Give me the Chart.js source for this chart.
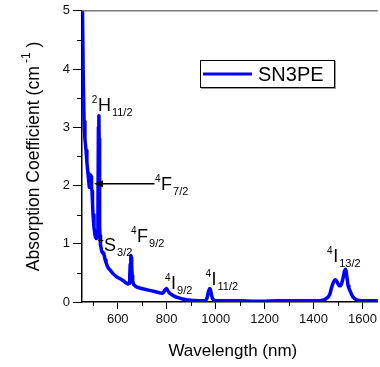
<!DOCTYPE html>
<html>
<head>
<meta charset="utf-8">
<script src="https://cdn.jsdelivr.net/npm/chart.js@4"></script>
<style>
  html, body { margin: 0; padding: 0; background: #fff; overflow: hidden; }
  canvas { display: block; }
</style>
</head>
<body>
<canvas id="myChart" width="380" height="367"></canvas>
<script>
// spectrum (nm, cm^-1)
const wavelength = [454, 456, 459, 462.5, 466, 470.6, 474, 478.7, 482, 484, 487, 489, 491, 493, 495, 497, 499, 503, 507, 510, 513, 516, 519, 521, 523, 524, 526, 529, 534, 537, 540, 543, 546, 549, 552, 556, 562, 568, 580, 596, 610, 621, 630, 637, 642, 646, 649, 651, 653, 654, 655.5, 657, 659, 661, 665, 670, 676, 690, 710, 730, 750, 770, 783, 788, 793, 799, 804, 810, 816, 823, 835, 850, 865, 880, 900, 933, 950, 960, 965, 970, 974, 976, 979, 983, 987, 992, 1000, 1050, 1100, 1150, 1200, 1250, 1300, 1350, 1400, 1430, 1446, 1455, 1462, 1467, 1473, 1480, 1485, 1489, 1494, 1500, 1505, 1510, 1515, 1521, 1526, 1530, 1533, 1537, 1541, 1544, 1548, 1552, 1555, 1560, 1567, 1574, 1581, 1595, 1610, 1630, 1662];
const absorption = [5.8, 5.0, 3.9, 3.1, 2.8, 2.6, 2.4, 2.2, 2.05, 1.97, 2.1, 2.18, 2.15, 1.98, 1.9, 1.7, 1.5, 1.28, 1.15, 1.1, 1.09, 1.15, 1.4, 3.0, 3.2, 2.8, 1.3, 1.0, 0.88, 0.85, 0.84, 0.82, 0.78, 0.72, 0.68, 0.63, 0.58, 0.55, 0.49, 0.43, 0.4, 0.37, 0.34, 0.32, 0.31, 0.32, 0.45, 0.65, 0.78, 0.8, 0.76, 0.62, 0.45, 0.36, 0.3, 0.28, 0.26, 0.24, 0.22, 0.2, 0.18, 0.16, 0.15, 0.17, 0.21, 0.23, 0.2, 0.16, 0.14, 0.12, 0.09, 0.07, 0.05, 0.04, 0.03, 0.02, 0.02, 0.03, 0.07, 0.17, 0.22, 0.23, 0.21, 0.12, 0.06, 0.03, 0.02, 0.02, 0.02, 0.015, 0.015, 0.02, 0.02, 0.02, 0.02, 0.025, 0.04, 0.07, 0.1, 0.14, 0.24, 0.33, 0.37, 0.38, 0.36, 0.31, 0.28, 0.28, 0.32, 0.42, 0.53, 0.56, 0.53, 0.4, 0.28, 0.24, 0.2, 0.16, 0.13, 0.09, 0.06, 0.04, 0.03, 0.02, 0.02, 0.02, 0.02];

const seriesName = 'SN3PE';
const xTicks = [600, 800, 1000, 1200, 1400, 1600];
const xMinor = [500, 700, 900, 1100, 1300, 1500];
const yMinor = [0.5, 1.5, 2.5, 3.5, 4.5];

// transition labels: superscript, letter, subscript, anchor (nm, value)
const levelSup = ['2', '4', '4', '4', '4', '4', '4'];
const levelLetter = ['H', 'F', 'S', 'F', 'I', 'I', 'I'];
const levelSub = ['11/2', '7/2', '3/2', '9/2', '9/2', '11/2', '13/2'];
const levelNm = [519, 777, 544, 679, 818, 983, 1480];
const levelVal = [3.28, 1.92, 0.87, 1.03, 0.22, 0.29, 0.69];
// arrow for 4F7/2
const arrowFrom = [750, 2.03];
const arrowTo = [503, 2.03];

const font = 'Arial, "Liberation Sans", sans-serif';

const extras = {
  id: 'extras',
  afterDraw(chart) {
    const {ctx, chartArea, scales: {x, y}} = chart;
    ctx.save();

    // top frame line
    ctx.strokeStyle = '#777';
    ctx.lineWidth = 1.5;
    ctx.beginPath();
    ctx.moveTo(chartArea.left, chartArea.top);
    ctx.lineTo(chartArea.right, chartArea.top);
    ctx.stroke();

    // minor ticks
    ctx.strokeStyle = '#000';
    ctx.lineWidth = 1;
    xMinor.forEach(v => {
      const px = Math.round(x.getPixelForValue(v)) + 0.5;
      ctx.beginPath();
      ctx.moveTo(px, chartArea.bottom);
      ctx.lineTo(px, chartArea.bottom + 4);
      ctx.stroke();
    });
    yMinor.forEach(v => {
      const py = Math.round(y.getPixelForValue(v)) + 0.5;
      ctx.beginPath();
      ctx.moveTo(chartArea.left - 5, py);
      ctx.lineTo(chartArea.left, py);
      ctx.stroke();
    });

    // level labels
    ctx.fillStyle = '#000';
    ctx.textBaseline = 'alphabetic';
    levelLetter.forEach((L, i) => {
      const px = x.getPixelForValue(levelNm[i]);
      const py = y.getPixelForValue(levelVal[i]);
      ctx.font = '10px ' + font;
      ctx.textAlign = 'right';
      ctx.fillText(levelSup[i], px - 0.5, py - 8);
      ctx.font = '18px ' + font;
      ctx.textAlign = 'left';
      ctx.fillText(L, px, py);
      const w = ctx.measureText(L).width;
      ctx.font = '11px ' + font;
      ctx.fillText(levelSub[i], px + w + 1, py + 5);
    });

    // arrow
    const ax0 = x.getPixelForValue(arrowFrom[0]), ay0 = y.getPixelForValue(arrowFrom[1]);
    const ax1 = x.getPixelForValue(arrowTo[0]), ay1 = y.getPixelForValue(arrowTo[1]);
    ctx.strokeStyle = '#000';
    ctx.lineWidth = 1.5;
    ctx.beginPath();
    ctx.moveTo(ax0, ay0);
    ctx.lineTo(ax1 + 6, ay1);
    ctx.stroke();
    ctx.beginPath();
    ctx.moveTo(ax1, ay1);
    ctx.lineTo(ax1 + 9, ay1 - 3.5);
    ctx.lineTo(ax1 + 9, ay1 + 3.5);
    ctx.closePath();
    ctx.fill();

    // legend
    const ds = chart.data.datasets[0];
    ctx.fillStyle = '#999';
    ctx.fillRect(201, 61, 135, 28);
    ctx.fillStyle = '#fff';
    ctx.fillRect(200, 60, 135, 28);
    ctx.strokeStyle = '#000';
    ctx.lineWidth = 1;
    ctx.strokeRect(200.5, 60.5, 134, 27);
    ctx.strokeStyle = ds.borderColor;
    ctx.lineWidth = 3;
    ctx.beginPath();
    ctx.moveTo(203, 74);
    ctx.lineTo(252, 74);
    ctx.stroke();
    ctx.fillStyle = '#000';
    ctx.font = '20px ' + font;
    ctx.textAlign = 'left';
    ctx.textBaseline = 'middle';
    ctx.fillText(ds.label, 258, 75);

    // axis titles
    ctx.textBaseline = 'alphabetic';
    ctx.font = '17px ' + font;
    ctx.textAlign = 'center';
    ctx.fillText('Wavelength (nm)', (chartArea.left + chartArea.right) / 2 + 3, 356);

    ctx.translate(39, (chartArea.top + chartArea.bottom) / 2);
    ctx.rotate(-Math.PI / 2);
    ctx.font = '17.5px ' + font;
    const t1 = 'Absorption Coefficient (cm';
    const w1 = ctx.measureText(t1).width;
    ctx.font = '12px ' + font;
    const w2 = ctx.measureText(' -1').width;
    ctx.font = '17.5px ' + font;
    const w3 = ctx.measureText(' )').width;
    let sx = -(w1 + w2 + w3) / 2;
    ctx.textAlign = 'left';
    ctx.fillText(t1, sx, 0);
    ctx.font = '12px ' + font;
    ctx.fillText(' -1', sx + w1, -9);
    ctx.font = '17.5px ' + font;
    ctx.fillText(' )', sx + w1 + w2, 0);
    ctx.restore();
  }
};

new Chart(document.getElementById('myChart').getContext('2d'), {
  type: 'line',
  data: {
    datasets: [{
      label: seriesName,
      data: wavelength.map((w, i) => ({x: w, y: absorption[i]})),
      borderColor: '#0000ff',
      borderWidth: 3.5,
      borderJoinStyle: 'round',
      borderCapStyle: 'round',
      pointRadius: 0,
      tension: 0,
      fill: false
    }]
  },
  options: {
    responsive: false,
    animation: false,
    devicePixelRatio: 1,
    layout: {padding: {top: 8, left: 0, right: 0, bottom: 0}},
    plugins: {legend: {display: false}, tooltip: {enabled: false}},
    scales: {
      x: {
        type: 'linear',
        min: 454,
        max: 1662,
        afterBuildTicks: s => { s.ticks = xTicks.map(v => ({value: v})); },
        afterFit: s => { s.height = 65; },
        ticks: {color: '#111', font: {size: 13, family: font}, padding: 3, maxRotation: 0, autoSkip: false,
                callback: v => String(v)},
        grid: {drawOnChartArea: false, tickLength: 7, tickColor: '#000'},
        border: {color: '#000', width: 1.5}
      },
      y: {
        min: 0,
        max: 5,
        afterFit: s => { s.width = 82; },
        ticks: {stepSize: 1, color: '#111', font: {size: 13, family: font}, padding: 3},
        grid: {drawOnChartArea: false, tickLength: 9, tickColor: '#000'},
        border: {color: '#000', width: 1.5}
      }
    }
  },
  plugins: [extras]
});
</script>
</body>
</html>
